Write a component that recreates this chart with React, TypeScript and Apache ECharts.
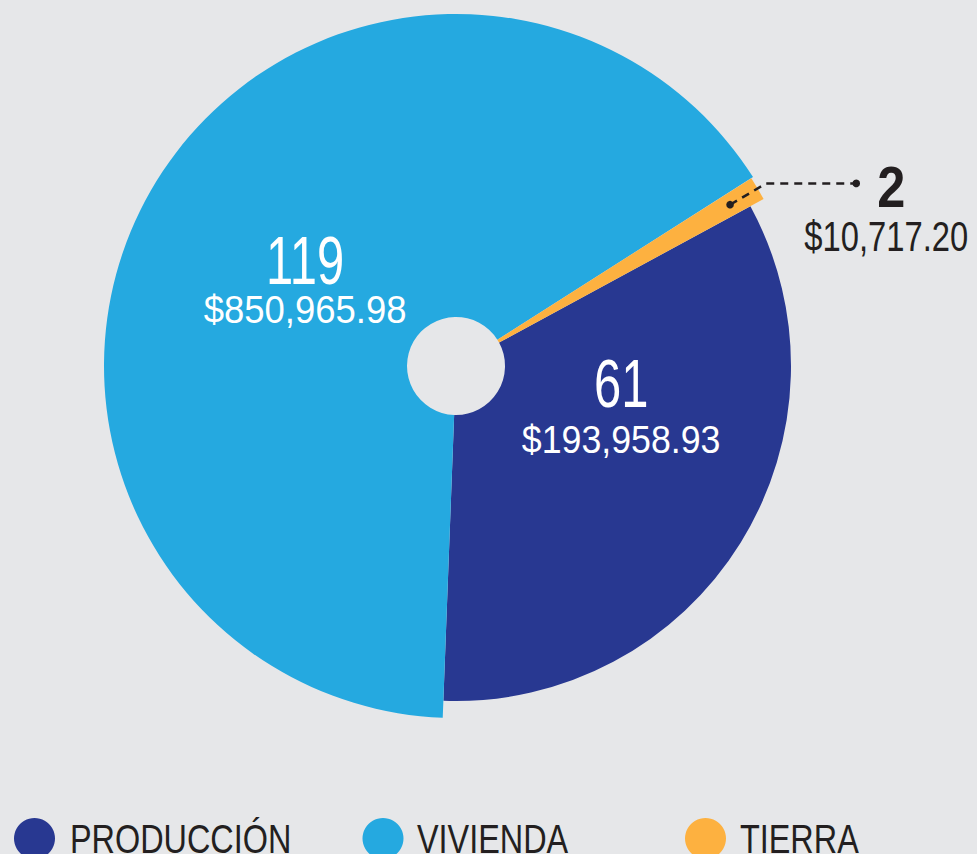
import React, { useEffect, useRef } from "react";
import * as echarts from "echarts";

// ---- data ----
const categories = ["PRODUCCIÓN", "VIVIENDA", "TIERRA"];
const counts = [61, 119, 2];
const amounts = ["$193,958.93", "$850,965.98", "$10,717.20"];
const colors = ["#283891", "#25A9E0", "#FDB140"];

// ---- layout ----
const FONT = "'Liberation Sans', Arial, sans-serif";
const BG = "#E6E7E9";
const INK = "#231F20";
const CX = 456;
const CY = 366;
const INNER = 49;
const START = 28.5;
const OUTER = [335, 352, 350];
const LEGEND_CIRCLE_X = [34.5, 383, 705.5];
const LEGEND_TEXT_X = [70, 417, 740];
const LEGEND_Y = 838;

export default function App() {
  const ref = useRef<HTMLDivElement>(null);
  useEffect(() => {
    document.body.style.margin = "0";
    document.body.style.background = BG;
    const chart = echarts.init(ref.current!, null, { renderer: "svg" });
    const total = counts.reduce((a, b) => a + b, 0);

    // geometry derived from the data (clockwise from START)
    const midAngle = (i: number) => {
      const before = counts.slice(0, i).reduce((a, b) => a + b, 0);
      return ((START - ((before + counts[i] / 2) / total) * 360) * Math.PI) / 180;
    };
    const polar = (i: number, r: number) => [
      CX + r * Math.cos(midAngle(i)),
      CY - r * Math.sin(midAngle(i)),
    ];

    const series = categories.map((_, k) => ({
      type: "pie",
      center: [CX, CY],
      radius: [INNER, OUTER[k]],
      startAngle: START,
      clockwise: true,
      avoidLabelOverlap: false,
      silent: true,
      z: 2,
      itemStyle: { borderWidth: 0 },
      emphasis: { disabled: true },
      label: { show: false },
      labelLine: { show: false },
      data: counts.map((v, i) => ({
        name: categories[i],
        value: v,
        itemStyle: { color: i === k ? colors[i] : "rgba(0,0,0,0)" },
      })),
    }));

    const graphics: any[] = [];
    const txt = (
      text: string,
      x: number,
      y: number,
      size: number,
      scaleX: number,
      fill: string,
      bold = false,
      align = "center"
    ) => ({
      type: "text",
      x,
      y,
      scaleX,
      z: 50,
      style: {
        text,
        fill,
        fontFamily: FONT,
        fontSize: size,
        fontWeight: bold ? "bold" : "normal",
        align,
        verticalAlign: "middle",
      },
    });

    // inside labels (anchored to each slice's mid-angle / mid-radius point)
    const insideOffsets = [
      [2, -84, -27],
      [23, -6, 44],
    ];
    [0, 1].forEach((i) => {
      const [ax, ay] = polar(i, (INNER + OUTER[i]) / 2);
      const [dx, dyN, dyV] = insideOffsets[i];
      graphics.push(txt(String(counts[i]), ax + dx, ay + dyN, 68, 0.72, "#fff"));
      graphics.push(txt(amounts[i], ax + dx, ay + dyV, 38, i === 0 ? 0.94 : 0.96, "#fff"));
    });

    // TIERRA leader line + label
    const p0 = polar(2, 318);
    const p1 = polar(2, 360);
    const p2 = [p1[0] + 90, p1[1]];
    graphics.push({
      type: "polyline",
      z: 40,
      shape: { points: [p0, p1, p2] },
      style: { stroke: INK, lineWidth: 2.5, lineDash: [8, 6], fill: null },
    });
    graphics.push({ type: "circle", z: 41, shape: { cx: p0[0], cy: p0[1], r: 3.8 }, style: { fill: INK } });
    graphics.push({ type: "circle", z: 41, shape: { cx: p2[0], cy: p2[1], r: 3.8 }, style: { fill: INK } });
    graphics.push(txt(String(counts[2]), p2[0] + 35, p2[1] + 4, 58, 0.87, INK, true));
    graphics.push(txt(amounts[2], p2[0] + 30, p2[1] + 53, 42, 0.78, INK));

    // legend
    categories.forEach((c, i) => {
      graphics.push({
        type: "circle",
        shape: { cx: LEGEND_CIRCLE_X[i], cy: LEGEND_Y + 0.5, r: 20.5 },
        style: { fill: colors[i] },
      });
      graphics.push(txt(c, LEGEND_TEXT_X[i], LEGEND_Y + 1, 40, 0.81, INK, false, "left"));
    });

    chart.setOption({
      animation: false,
      backgroundColor: BG,
      series,
      graphic: graphics,
    });
    return () => chart.dispose();
  }, []);
  return <div ref={ref} style={{ width: 977, height: 854, background: BG }} />;
}
